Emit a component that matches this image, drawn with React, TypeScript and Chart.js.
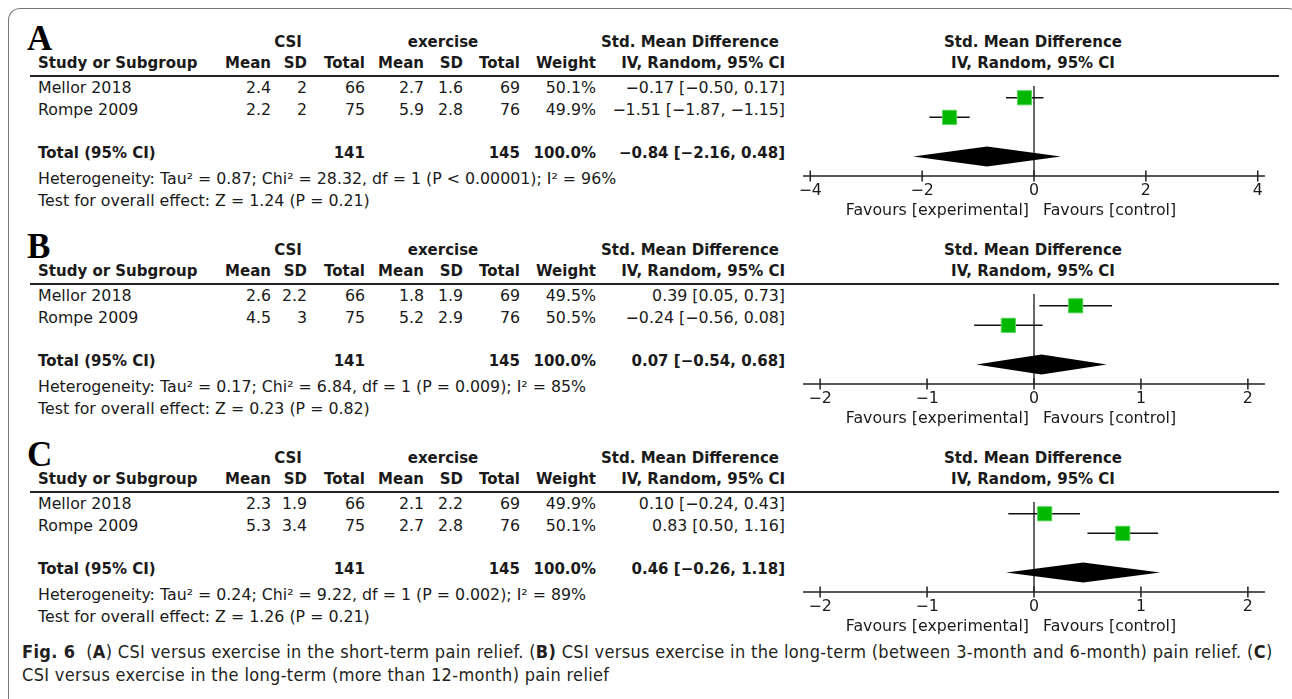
import React, { useEffect, useRef } from "react";
import { Chart, registerables } from "chart.js";

Chart.register(...registerables);

// ---------------- data ----------------
const panelLetters = ["A", "B", "C"];
const studies = ["Mellor 2018", "Rompe 2009"];
const csiMean = [[2.4, 2.2], [2.6, 4.5], [2.3, 5.3]];
const csiSD = [[2, 2], [2.2, 3], [1.9, 3.4]];
const csiTotal = [[66, 75], [66, 75], [66, 75]];
const exMean = [[2.7, 5.9], [1.8, 5.2], [2.1, 2.7]];
const exSD = [[1.6, 2.8], [1.9, 2.9], [2.2, 2.8]];
const exTotal = [[69, 76], [69, 76], [69, 76]];
const weights = [["50.1%", "49.9%"], ["49.5%", "50.5%"], ["49.9%", "50.1%"]];
const smd = [[-0.17, -1.51], [0.39, -0.24], [0.1, 0.83]];
const ciLow = [[-0.5, -1.87], [0.05, -0.56], [-0.24, 0.5]];
const ciHigh = [[0.17, -1.15], [0.73, 0.08], [0.43, 1.16]];
const totalCsi = [141, 141, 141];
const totalEx = [145, 145, 145];
const totalSmd = [-0.84, 0.07, 0.46];
const totalLow = [-2.16, -0.54, -0.26];
const totalHigh = [0.48, 0.68, 1.18];
const heterogeneity = [
  "Heterogeneity: Tau² = 0.87; Chi² = 28.32, df = 1 (P < 0.00001); I² = 96%",
  "Heterogeneity: Tau² = 0.17; Chi² = 6.84, df = 1 (P = 0.009); I² = 85%",
  "Heterogeneity: Tau² = 0.24; Chi² = 9.22, df = 1 (P = 0.002); I² = 89%",
];
const overallEffect = [
  "Test for overall effect: Z = 1.24 (P = 0.21)",
  "Test for overall effect: Z = 0.23 (P = 0.82)",
  "Test for overall effect: Z = 1.26 (P = 0.21)",
];
const axisTicks = [[-4, -2, 0, 2, 4], [-2, -1, 0, 1, 2], [-2, -1, 0, 1, 2]];
const axisExtent = [4.13, 2.16, 2.16];
const favoursLeft = "Favours [experimental]";
const favoursRight = "Favours [control]";

// ---------------- layout ----------------
const FONT = '"DejaVu Sans", Verdana, sans-serif';
const CAPFONT = '"DejaVu Sans Condensed", "Liberation Sans Narrow", sans-serif';
const TXT = "#1a1a1a";
const REG = 15.8;
const STEP = 208;
const studyRows = [0, 1];
const totalRow = 3;
const axisRow = 4;

const minus = (s: string) => s.replace(/-/g, "\u2212");
const f2 = (v: number) => minus(v.toFixed(2));
const ciText = (m: number, l: number, h: number) => `${f2(m)} [${f2(l)}, ${f2(h)}]`;

type TProps = { x: number; y: number; a?: "l" | "c" | "r"; b?: boolean; size?: number; children: React.ReactNode };
function T({ x, y, a = "l", b = false, size, children }: TProps) {
  const tx = a === "l" ? 0 : a === "c" ? -50 : -100;
  return (
    <div
      style={{
        position: "absolute",
        left: x,
        top: y,
        transform: `translate(${tx}%, -50%)`,
        whiteSpace: "nowrap",
        fontWeight: b ? 700 : 400,
        fontSize: size ?? (b ? 15 : REG),
        lineHeight: 1,
        fontFamily: FONT,
        color: TXT,
      }}
    >
      {children}
    </div>
  );
}

function forestPlugin(p: number) {
  return {
    id: "forest" + p,
    beforeDatasetsDraw(chart: any) {
      const ctx = chart.ctx as CanvasRenderingContext2D;
      const xs = chart.scales.x;
      const ys = chart.scales.y;
      const ca = chart.chartArea;
      const x0 = xs.getPixelForValue(0);
      const ya = ys.getPixelForValue(axisRow);
      ctx.save();
      // zero line
      ctx.strokeStyle = "#333";
      ctx.lineWidth = 1.5;
      ctx.beginPath();
      ctx.moveTo(x0, ca.top - 2);
      ctx.lineTo(x0, ya);
      ctx.stroke();
      // whiskers
      ctx.strokeStyle = "#111";
      ctx.lineWidth = 1.5;
      studyRows.forEach((r, i) => {
        const yy = ys.getPixelForValue(r);
        ctx.beginPath();
        ctx.moveTo(xs.getPixelForValue(ciLow[p][i]), yy);
        ctx.lineTo(xs.getPixelForValue(ciHigh[p][i]), yy);
        ctx.stroke();
      });
      // diamond
      const yt = ys.getPixelForValue(totalRow);
      const h = 10;
      ctx.fillStyle = "#000";
      ctx.beginPath();
      ctx.moveTo(xs.getPixelForValue(totalLow[p]), yt);
      ctx.lineTo(xs.getPixelForValue(totalSmd[p]), yt - h);
      ctx.lineTo(xs.getPixelForValue(totalHigh[p]), yt);
      ctx.lineTo(xs.getPixelForValue(totalSmd[p]), yt + h);
      ctx.closePath();
      ctx.fill();
      // axis
      ctx.strokeStyle = "#222";
      ctx.lineWidth = 1.5;
      ctx.beginPath();
      ctx.moveTo(ca.left, ya);
      ctx.lineTo(ca.right, ya);
      axisTicks[p].forEach((t) => {
        const px = xs.getPixelForValue(t);
        ctx.moveTo(px, ya - 5.5);
        ctx.lineTo(px, ya + 5.5);
      });
      ctx.stroke();
      ctx.fillStyle = TXT;
      ctx.font = `${REG}px ${FONT}`;
      ctx.textAlign = "center";
      ctx.textBaseline = "middle";
      axisTicks[p].forEach((t) => {
        ctx.fillText(minus(String(t)), xs.getPixelForValue(t), ya + 15);
      });
      ctx.textAlign = "right";
      ctx.fillText(favoursLeft, x0 - 5, ya + 35);
      ctx.textAlign = "left";
      ctx.fillText(favoursRight, x0 + 9, ya + 35);
      ctx.restore();
    },
  };
}

function Forest({ p }: { p: number }) {
  const ref = useRef<HTMLCanvasElement>(null);
  useEffect(() => {
    const ext = axisExtent[p];
    const chart = new Chart(ref.current as HTMLCanvasElement, {
      type: "scatter",
      data: {
        datasets: [
          {
            data: smd[p].map((v, i) => ({ x: v, y: studyRows[i] })),
            pointStyle: "rect",
            pointRadius: 10,
            pointHoverRadius: 10,
            backgroundColor: "#00b800",
            borderColor: "#55d455",
            borderWidth: 1,
          },
        ],
      },
      options: {
        responsive: false,
        animation: false,
        events: [],
        layout: { padding: { left: 13, right: 15, top: 0, bottom: 46 } },
        plugins: { legend: { display: false }, tooltip: { enabled: false } },
        scales: {
          x: { type: "linear", min: -ext, max: ext, display: false },
          y: { type: "linear", min: -0.5, max: axisRow, reverse: true, display: false },
        },
      },
      plugins: [forestPlugin(p)],
    } as any);
    return () => chart.destroy();
  }, [p]);
  return (
    <canvas
      ref={ref}
      width={490}
      height={145}
      style={{ position: "absolute", left: 790, top: 77 + p * STEP, width: 490, height: 145 }}
    />
  );
}

const colRight = [271, 307, 365, 424, 463, 520, 596, 785];

function Panel({ p }: { p: number }) {
  const o = p * STEP;
  const rowsY = [88, 110];
  return (
    <>
      <div
        style={{
          position: "absolute",
          left: 27,
          top: 38 + o,
          transform: "translate(0,-50%)",
          fontFamily: '"Liberation Serif", "DejaVu Serif", serif',
          fontSize: 35,
          fontWeight: 700,
          lineHeight: 1,
          color: "#000",
        }}
      >
        {panelLetters[p]}
      </div>
      <T x={288} y={42 + o} a="c" b>CSI</T>
      <T x={443} y={42 + o} a="c" b>exercise</T>
      <T x={690} y={42 + o} a="c" b>Std. Mean Difference</T>
      <T x={1033} y={42 + o} a="c" b>Std. Mean Difference</T>
      <T x={38} y={63 + o} b>Study or Subgroup</T>
      {["Mean", "SD", "Total", "Mean", "SD", "Total", "Weight", "IV, Random, 95% CI"].map((h, i) => (
        <T key={i} x={colRight[i]} y={63 + o} a="r" b>{h}</T>
      ))}
      <T x={1033} y={63 + o} a="c" b>IV, Random, 95% CI</T>
      <div style={{ position: "absolute", left: 30, top: 75 + o, width: 1249, height: 2, background: "#222" }} />
      {studies.map((s, i) => {
        const vals = [
          String(csiMean[p][i]),
          String(csiSD[p][i]),
          String(csiTotal[p][i]),
          String(exMean[p][i]),
          String(exSD[p][i]),
          String(exTotal[p][i]),
          weights[p][i],
          ciText(smd[p][i], ciLow[p][i], ciHigh[p][i]),
        ];
        return (
          <React.Fragment key={s}>
            <T x={38} y={rowsY[i] + o}>{s}</T>
            {vals.map((v, j) => (
              <T key={j} x={colRight[j]} y={rowsY[i] + o} a="r">{v}</T>
            ))}
          </React.Fragment>
        );
      })}
      <T x={38} y={153 + o} b>Total (95% CI)</T>
      <T x={colRight[2]} y={153 + o} a="r" b>{totalCsi[p]}</T>
      <T x={colRight[5]} y={153 + o} a="r" b>{totalEx[p]}</T>
      <T x={colRight[6]} y={153 + o} a="r" b>100.0%</T>
      <T x={colRight[7]} y={153 + o} a="r" b>{ciText(totalSmd[p], totalLow[p], totalHigh[p])}</T>
      <T x={38} y={179 + o}>{heterogeneity[p]}</T>
      <T x={38} y={201 + o}>{overallEffect[p]}</T>
      <Forest p={p} />
    </>
  );
}

export default function App() {
  return (
    <div style={{ position: "fixed", left: 0, top: 0, width: 1292, height: 699, overflow: "hidden", background: "#fff" }}>
      <div
        style={{
          position: "absolute",
          left: 8,
          top: 8,
          width: 1290,
          height: 760,
          borderTop: "1px solid #777",
          borderLeft: "1px solid #777",
          borderRight: "1px solid #777",
          borderTopLeftRadius: 12,
          borderTopRightRadius: 12,
        }}
      />
      {[0, 1, 2].map((p) => (
        <Panel key={p} p={p} />
      ))}
      <div
        style={{
          position: "absolute",
          left: 22,
          top: 640,
          fontFamily: CAPFONT,
          fontSize: 18,
          letterSpacing: 0.33,
          lineHeight: "23px",
          color: "#231f20",
          whiteSpace: "nowrap",
        }}
      >
        <b>Fig. 6</b>&nbsp;&nbsp;(<b>A</b>) CSI versus exercise in the short-term pain relief. (<b>B)</b> CSI versus exercise in the
        long-term (between 3-month and 6-month) pain relief. (<b>C</b>)
        <br />
        CSI versus exercise in the long-term (more than 12-month) pain relief
      </div>
    </div>
  );
}
